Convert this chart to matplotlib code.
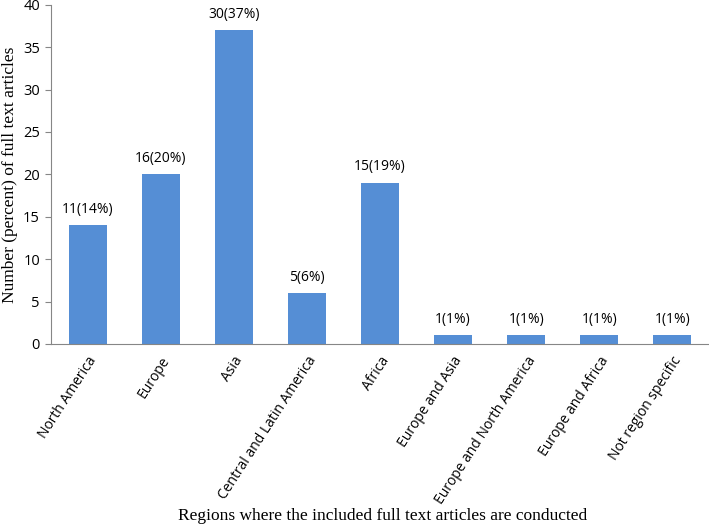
import matplotlib
matplotlib.use('Agg')
import matplotlib.pyplot as plt
import numpy as np

regions = ['North America', 'Europe', 'Asia', 'Central and Latin America', 'Africa',
           'Europe and Asia', 'Europe and North America', 'Europe and Africa',
           'Not region specific']
counts = [11, 16, 30, 5, 15, 1, 1, 1, 1]
percents = [14, 20, 37, 6, 19, 1, 1, 1, 1]

fig = plt.figure(figsize=(7.09, 5.30), dpi=100)
ax = fig.add_axes([0.072, 0.351, 0.928, 0.640])

x = np.arange(len(regions))
bars = ax.bar(x, percents, width=0.52, color='#558ED5')

for b, c, p in zip(bars, counts, percents):
    ax.text(b.get_x() + b.get_width() / 2, b.get_height() + 1.0, '%d(%d%%)' % (c, p),
            ha='center', va='bottom', fontsize=10, family='Open Sans')

ax.set_xlim(-0.5, len(regions) - 0.5)
ax.set_ylim(0, 40)
ax.set_yticks(range(0, 41, 5))
ax.set_xticks(x)
ax.set_xticklabels(regions, rotation=57, ha='right', rotation_mode='anchor',
                   fontsize=10, family='Open Sans')
for lab in ax.get_yticklabels():
    lab.set_family('Open Sans')
    lab.set_fontsize(10.5)

ax.tick_params(axis='x', length=0, pad=7)
ax.tick_params(axis='y', length=4, color='#868686', pad=4)
ax.spines['top'].set_visible(False)
ax.spines['right'].set_visible(False)
ax.spines['left'].set_color('#868686')
ax.spines['bottom'].set_color('#868686')

ax.set_ylabel('Number (percent) of full text articles', family='Liberation Serif', fontsize=12.5)
fig.text(0.54, 0.012, 'Regions where the included full text articles are conducted',
         ha='center', va='bottom', family='Liberation Serif', fontsize=12.5)

fig.savefig('out.png', dpi=100)
